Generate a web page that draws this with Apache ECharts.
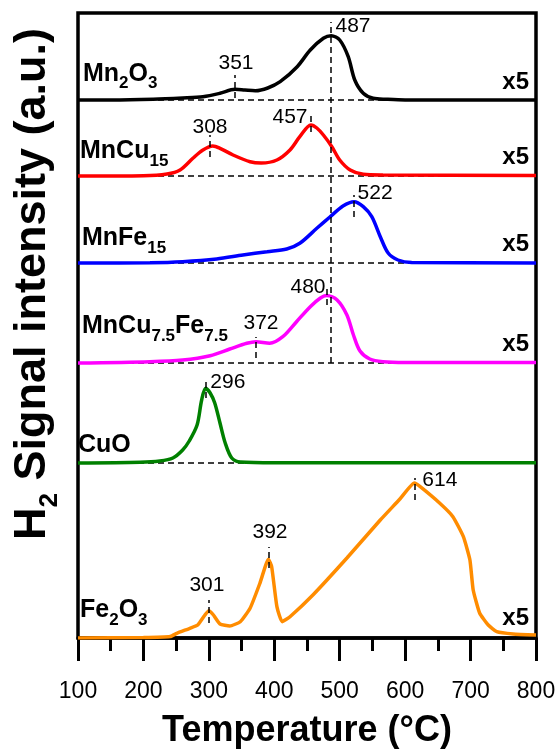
<!DOCTYPE html>
<html><head><meta charset="utf-8">
<script src="https://cdn.jsdelivr.net/npm/echarts@6/dist/echarts.min.js"></script>
<style>html,body{margin:0;padding:0;background:#fff}#c{width:559px;height:751px}</style>
</head><body><div id="c"></div>
<script>
// ---- data (temperature in °C, intensity in a.u. above each curve's own baseline) ----
const sampleNames = ['Mn2O3', 'MnCu15', 'MnFe15', 'MnCu7.5Fe7.5', 'CuO', 'Fe2O3'];
const baselines = [538, 462, 375, 275, 175, 0];
const scaleTags = ['x5', 'x5', 'x5', 'x5', '', 'x5'];

const mn2o3T = [100,150,215,260,291,317,340,355,371,390,409,435,455,475,487,500,513,523,536,551,572,600,800];
const mn2o3I = [0,0,0.7,2,3.3,6.7,10.7,10,9.3,12,18.3,33.3,50,61.7,64.3,60,43.3,20,6.7,1.7,0.7,0,0];

const mnCuT = [100,200,236,256,276,291,306,317,337,363,380,404,424,439,456,465,475,488,500,516,536,566,800];
const mnCuI = [0,0.3,2,6,18,26,30,27.7,21,14.3,13,16,26,39.3,51,48,41,29.3,16,6,1.7,1,0.5];

const mnFeT = [100,210,260,312,352,389,419,439,465,485,505,522,536,549,562,574,589,610,800];
const mnFeI = [0,0.3,1.3,4,8,11.3,14,19.7,34.7,46,57,61.3,56.3,46.3,26.3,10,3,0.5,0];

const mnCuFeT = [100,210,260,302,332,358,372,393,413,434,455,470,480,496,511,521,531,546,566,600,800];
const mnCuFeI = [0,1.3,3,7.3,14,19.7,21.3,19.7,26.3,41.3,56.3,64.7,67.5,63,48,28,12,4,1.3,0.5,0.5];

const cuoT = [100,195,225,245,260,270,282,289,295,302,309,317,325,335,348,400,800];
const cuoI = [0,0.7,2,5,13,22,38,63,74.7,70,60,40,20,5,1,0.3,0.3];

const fe2o3T = [100,200,241,251,271,283,294,300,307,317,332,348,363,378,391,396,404,412,424,459,511,562,592,614,623,653,673,689,699,704,714,727,740,765,800];
const fe2o3I = [0,0.5,1.5,4.7,9.7,13,23,27.3,23,14,12,16.3,29.7,54.7,78.7,71.3,31.3,16.3,21.3,43,80,118,139,155,151.3,134.7,121.3,101.3,78,48,24.7,13,6.3,4,3];

// peak annotations
const peakText = ['487','351','308','457','522','480','372','296','614','392','301'];
const peakLabelT = [520.3,341.5,301.7,424,554,451.5,379.7,329,653,393.4,297];
const peakLabelV = [612,575,511,521,445,351,315,256,158,106,53];
const markT  = [487,340,302,456,522,480,372,295,614,392,300];
const markLo = [275,540,481,506,421,333,280,240,138,70,15];
const markHi = [616,563,503,526,443,353,301,260,160,91,38];

const xMin = 100, xMax = 800, xStep = 100;

// ---- build ----
const FONT = 'Arial, "Liberation Sans", sans-serif';
const colors = ['#000000', '#ff0000', '#0000ff', '#ff00ff', '#008000', '#ff8c00'];
const curves = [[mn2o3T, mn2o3I],[mnCuT, mnCuI],[mnFeT, mnFeI],[mnCuFeT, mnCuFeI],[cuoT, cuoI],[fe2o3T, fe2o3I]];

const series = [];
// dashed baselines
series.push({
  type: 'lines', coordinateSystem: 'cartesian2d', silent: true, z: 1,
  lineStyle: {color: '#000', width: 1.5, type: [6, 4], opacity: 1, curveness: 0},
  data: baselines.slice(0, 5).map(b => ({coords: [[xMin, b], [xMax, b]]}))
});
curves.forEach((c, i) => {
  series.push({
    type: 'line', name: sampleNames[i], z: 2,
    data: c[0].map((t, k) => [t, c[1][k] + baselines[i]]),
    showSymbol: false, smooth: i === 5 ? 0.15 : 0.3,
    lineStyle: {color: colors[i], width: 3.5},
    itemStyle: {color: colors[i]}
  });
});
// peak markers
series.push({
  type: 'lines', coordinateSystem: 'cartesian2d', silent: true, z: 4,
  lineStyle: {color: '#000', width: 1.5, type: [6, 4], opacity: 1, curveness: 0},
  data: markT.map((t, k) => ({coords: [[t, markLo[k]], [t, markHi[k]]]}))
});
// peak labels
series.push({
  type: 'scatter', symbolSize: 0, silent: true, z: 5,
  itemStyle: {opacity: 1, color: '#000'},
  data: peakText.map((s, k) => ({name: s, value: [peakLabelT[k], peakLabelV[k]]})),
  label: {show: true, position: 'inside', formatter: '{b}', color: '#000', opacity: 1, textBorderWidth: 0, fontSize: 21, fontFamily: FONT}
});

const nameRich = {
  a: {fontSize: 25, fontWeight: 'bold', fontFamily: FONT, fill: '#000', lineHeight: 36, verticalAlign: 'middle'},
  s: {fontSize: 17, fontWeight: 'bold', fontFamily: FONT, fill: '#000', lineHeight: 17, verticalAlign: 'bottom'}
};
const nameMarkup = ['{a|Mn}{s|2}{a|O}{s|3}', '{a|MnCu}{s|15}', '{a|MnFe}{s|15}', '{a|MnCu}{s|7.5}{a|Fe}{s|7.5}', '{a|CuO}', '{a|Fe}{s|2}{a|O}{s|3}'];
const nameX = [83, 80, 82, 82, 78, 80];
const nameY = [74, 151.5, 238.5, 326.5, 445, 610.5];
const tagY = [82, 157, 244, 344, 0, 618];

const graphic = [];
nameMarkup.forEach((m, i) => {
  graphic.push({type: 'text', x: nameX[i], y: nameY[i], z: 10,
    style: {text: m, rich: nameRich, align: 'left', verticalAlign: 'middle'}});
  if (scaleTags[i]) graphic.push({type: 'text', x: 529, y: tagY[i], z: 10,
    style: {text: scaleTags[i], fontSize: 24, fontWeight: 'bold', fontFamily: FONT, fill: '#000', align: 'right', verticalAlign: 'middle'}});
});
graphic.push({type: 'text', x: 33, y: 284, rotation: Math.PI / 2, z: 10,
  style: {text: '{a|H}{s|2}{a| Signal intensity (a.u.)}', align: 'center', verticalAlign: 'middle',
    rich: {
      a: {fontSize: 45, fontWeight: 'bold', fontFamily: FONT, fill: '#000', lineHeight: 60, verticalAlign: 'middle'},
      s: {fontSize: 26, fontWeight: 'bold', fontFamily: FONT, fill: '#000', lineHeight: 26, verticalAlign: 'bottom'}
    }}});

const option = {
  backgroundColor: '#fff',
  animation: false,
  grid: {left: 78, right: 23, top: 13, bottom: 113, show: true, borderColor: '#000', borderWidth: 3.5, containLabel: false, outerBoundsMode: 'none'},
  xAxis: {
    type: 'value', min: xMin, max: xMax, interval: xStep,
    name: 'Temperature (°C)', nameLocation: 'middle', nameGap: 75,
    nameTextStyle: {fontSize: 36, fontWeight: 'bold', fontFamily: FONT, color: '#000'},
    axisLine: {show: true, onZero: false, lineStyle: {color: '#000', width: 3.5}},
    axisTick: {show: true, inside: false, length: 23, lineStyle: {color: '#000', width: 3}},
    minorTick: {show: true, splitNumber: 2, length: 13, lineStyle: {color: '#000', width: 3}},
    axisLabel: {show: true, margin: 42, fontSize: 23, fontFamily: FONT, color: '#000'},
    splitLine: {show: false}, minorSplitLine: {show: false}
  },
  yAxis: {
    type: 'value', min: 0, max: 625,
    axisLine: {show: false}, axisTick: {show: false}, axisLabel: {show: false}, splitLine: {show: false}
  },
  series: series,
  graphic: graphic
};
const chart = echarts.init(document.getElementById('c'), null, {renderer: 'canvas', width: 559, height: 751});
chart.setOption(option);
</script>
</body></html>
